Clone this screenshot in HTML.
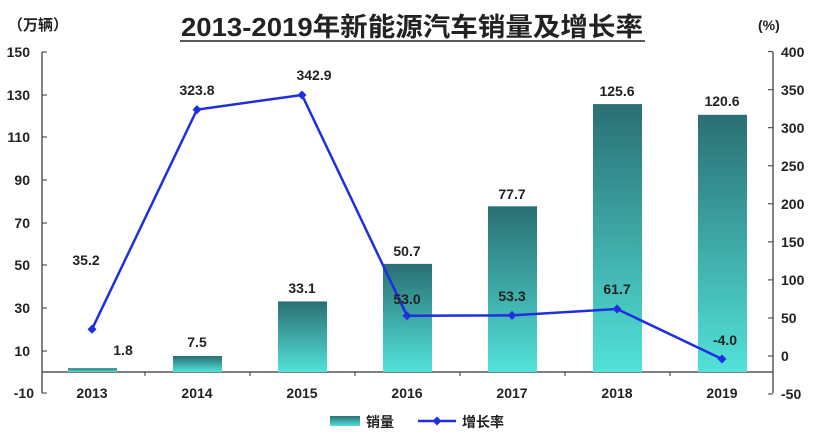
<!DOCTYPE html>
<html><head><meta charset="utf-8"><style>
body{margin:0;background:#fff;}
svg text{font-family:"Liberation Sans","Noto Sans CJK SC",sans-serif;font-weight:bold;fill:#222;}
</style></head><body>
<svg width="831" height="443" viewBox="0 0 831 443" xmlns="http://www.w3.org/2000/svg">
<defs>
<linearGradient id="g" x1="0" y1="0" x2="0" y2="1">
<stop offset="0" stop-color="#2a6f73"/><stop offset="1" stop-color="#52e2d9"/>
</linearGradient>
</defs>
<text x="412" y="36" font-size="26" text-anchor="middle" textLength="462" lengthAdjust="spacingAndGlyphs">2013-2019年新能源汽车销量及增长率</text>
<line x1="180" y1="41" x2="645" y2="41" stroke="#222" stroke-width="1.5"/>
<text x="8" y="30" font-size="15">（万辆）</text>
<text x="758" y="30" font-size="14">(%)</text>
<line x1="42" y1="52" x2="42" y2="393" stroke="#333" stroke-width="1.2"/>
<line x1="773" y1="52" x2="773" y2="393" stroke="#333" stroke-width="1.2"/>
<line x1="42" y1="372" x2="773" y2="372" stroke="#333" stroke-width="1.2"/>
<g font-size="14" text-anchor="end">
<text x="30" y="57">150</text><text x="30" y="100">130</text><text x="30" y="142">110</text><text x="30" y="185">90</text><text x="30" y="228">70</text><text x="30" y="270">50</text><text x="30" y="313">30</text><text x="30" y="356">10</text><text x="34" y="398">-10</text>
</g>
<g stroke="#333">
<line x1="42" y1="52" x2="47" y2="52"/><line x1="42" y1="95" x2="47" y2="95"/><line x1="42" y1="137" x2="47" y2="137"/><line x1="42" y1="180" x2="47" y2="180"/><line x1="42" y1="223" x2="47" y2="223"/><line x1="42" y1="265" x2="47" y2="265"/><line x1="42" y1="308" x2="47" y2="308"/><line x1="42" y1="351" x2="47" y2="351"/><line x1="42" y1="393" x2="47" y2="393"/>
<line x1="768" y1="51.6" x2="773" y2="51.6"/><line x1="768" y1="89.7" x2="773" y2="89.7"/><line x1="768" y1="127.7" x2="773" y2="127.7"/><line x1="768" y1="165.8" x2="773" y2="165.8"/><line x1="768" y1="203.8" x2="773" y2="203.8"/><line x1="768" y1="241.9" x2="773" y2="241.9"/><line x1="768" y1="279.9" x2="773" y2="279.9"/><line x1="768" y1="318" x2="773" y2="318"/><line x1="768" y1="356" x2="773" y2="356"/><line x1="768" y1="394" x2="773" y2="394"/>
<line x1="145" y1="372" x2="145" y2="376"/><line x1="250" y1="372" x2="250" y2="376"/><line x1="355" y1="372" x2="355" y2="376"/><line x1="460" y1="372" x2="460" y2="376"/><line x1="565" y1="372" x2="565" y2="376"/><line x1="670" y1="372" x2="670" y2="376"/>
</g>
<g font-size="14" text-anchor="start">
<text x="781" y="57">400</text><text x="781" y="95">350</text><text x="781" y="133">300</text><text x="781" y="171">250</text><text x="781" y="209">200</text><text x="781" y="247">150</text><text x="781" y="285">100</text><text x="781" y="323">50</text><text x="781" y="361">0</text><text x="781" y="399">-50</text>
</g>
<g fill="url(#g)">
<rect x="68" y="368.2" width="49" height="3.8"/>
<rect x="173" y="356" width="49" height="16"/>
<rect x="278" y="301.4" width="49" height="70.6"/>
<rect x="383" y="263.9" width="49" height="108.1"/>
<rect x="488" y="206.3" width="49" height="165.7"/>
<rect x="593" y="104.1" width="49" height="267.9"/>
<rect x="698" y="114.8" width="49" height="257.2"/>
</g>
<g font-size="14" text-anchor="middle">
<text x="123" y="355">1.8</text>
<text x="197" y="347">7.5</text>
<text x="302" y="293">33.1</text>
<text x="407" y="256">50.7</text>
<text x="512" y="199">77.7</text>
<text x="617" y="96">125.6</text>
<text x="722" y="106">120.6</text>
</g>
<polyline points="92,329.2 197,109.6 302,95 407,315.7 512,315.4 617,309 722,359" fill="none" stroke="#1f2fe0" stroke-width="2.5"/>
<g fill="#1f2fe0">
<path d="M92,324.7 l4.5,4.5 -4.5,4.5 -4.5,-4.5z"/><path d="M197,105.1 l4.5,4.5 -4.5,4.5 -4.5,-4.5z"/><path d="M302,90.5 l4.5,4.5 -4.5,4.5 -4.5,-4.5z"/><path d="M407,311.2 l4.5,4.5 -4.5,4.5 -4.5,-4.5z"/><path d="M512,310.9 l4.5,4.5 -4.5,4.5 -4.5,-4.5z"/><path d="M617,304.5 l4.5,4.5 -4.5,4.5 -4.5,-4.5z"/><path d="M722,354.5 l4.5,4.5 -4.5,4.5 -4.5,-4.5z"/>
</g>
<g font-size="14" text-anchor="middle">
<text x="86" y="265">35.2</text>
<text x="197" y="95">323.8</text>
<text x="314" y="80">342.9</text>
<text x="407" y="304">53.0</text>
<text x="512" y="301">53.3</text>
<text x="617" y="294">61.7</text>
<text x="725" y="345">-4.0</text>
</g>
<g font-size="14" text-anchor="middle">
<text x="92" y="398">2013</text><text x="197" y="398">2014</text><text x="302" y="398">2015</text><text x="407" y="398">2016</text><text x="512" y="398">2017</text><text x="617" y="398">2018</text><text x="722" y="398">2019</text>
</g>
<rect x="330" y="416" width="30" height="10" fill="url(#g)"/>
<text x="366" y="427" font-size="14">销量</text>
<line x1="418" y1="421" x2="456" y2="421" stroke="#1f2fe0" stroke-width="2.5"/>
<path d="M437,416.5 l4.5,4.5 -4.5,4.5 -4.5,-4.5z" fill="#1f2fe0"/>
<text x="462" y="427" font-size="14">增长率</text>
</svg>
</body></html>
